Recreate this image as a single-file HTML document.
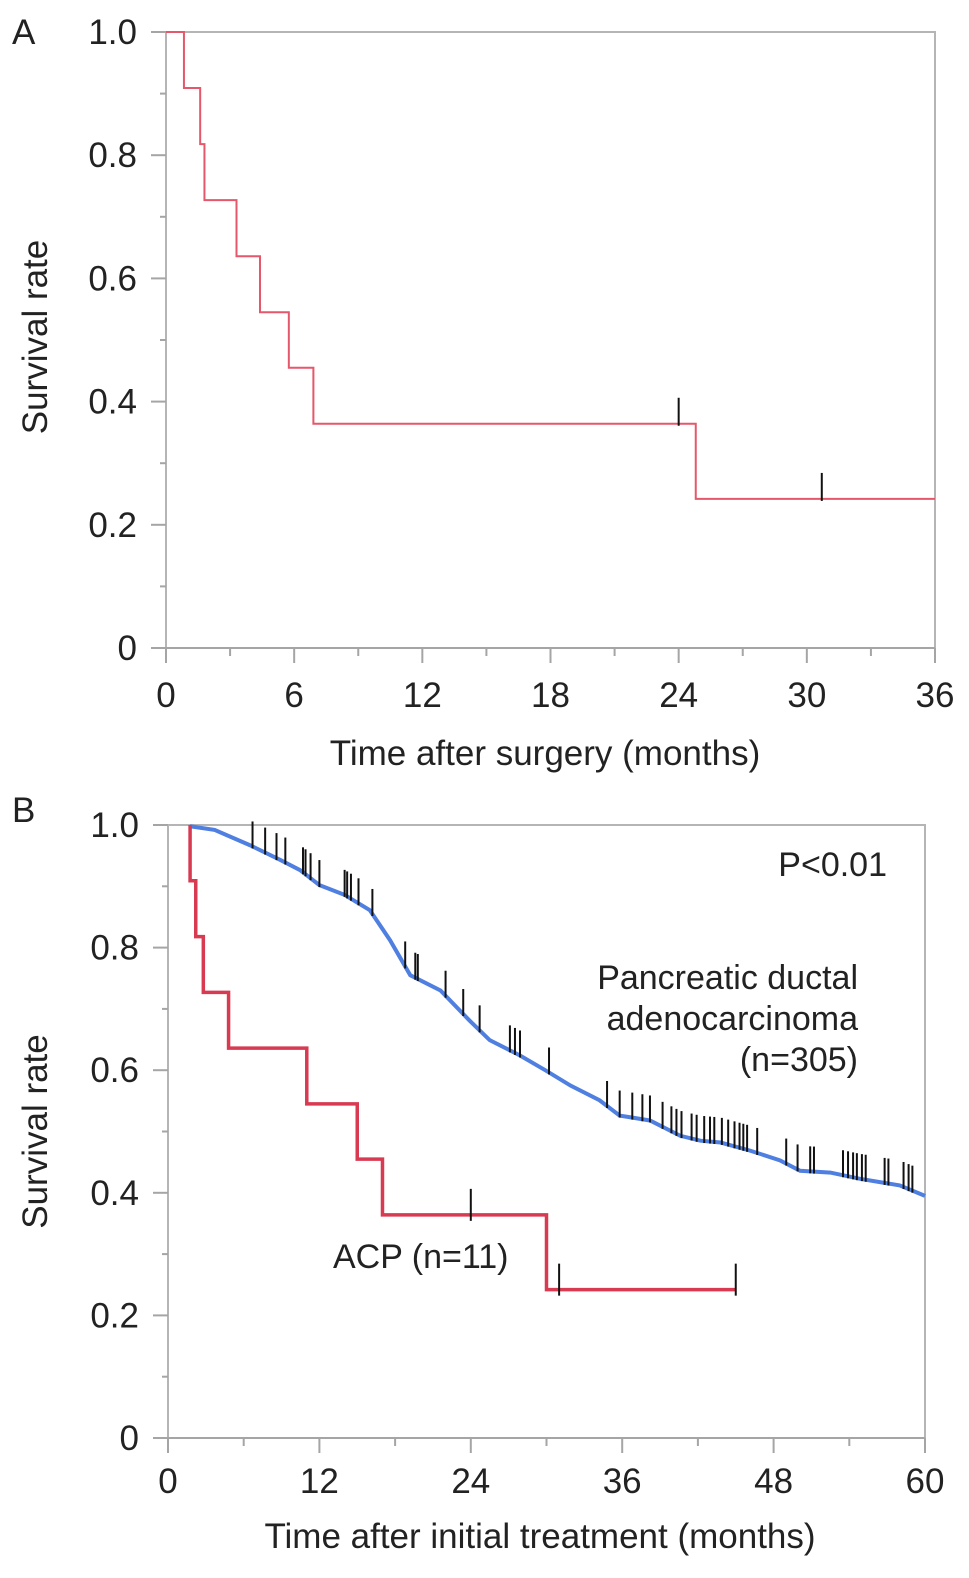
<!DOCTYPE html>
<html><head><meta charset="utf-8"><style>
body{margin:0;background:#fff;}
svg text{font-family:"Liberation Sans",Arial,sans-serif;fill:#222;}
</style></head><body>
<svg id="s" width="969" height="1573" xmlns="http://www.w3.org/2000/svg">
<text x="12" y="44" font-size="35">A</text>
<text x="12" y="822" font-size="35">B</text>
<g id="ga"></g>
<g id="gb"></g>
</svg>
<script>
// Panel A data
const aTimes=[0,0.84,1.6,1.8,3.3,4.4,5.75,6.9,24.8,36];
const aSurv=[1,0.909,0.818,0.727,0.636,0.545,0.455,0.364,0.242,0.242];
const aCensor=[24,30.7];
const aXTicks=[0,6,12,18,24,30,36];
const yTicks=[0,0.2,0.4,0.6,0.8,1.0];
const yTickLabels=["0","0.2","0.4","0.6","0.8","1.0"];
// Panel B data
const bRedTimes=[1.75,1.75,2.2,2.8,4.8,11,15,17,30,45];
const bRedSurv=[1,0.909,0.818,0.727,0.636,0.545,0.455,0.364,0.242,0.242];
const bRedCensor=[24,31,45];
const bBlueTimes=[1.74,3.7,6.5,8.9,10.5,12.0,14.0,16.0,17.6,19.2,21.6,23.9,25.5,27.9,29.9,31.9,34.2,35.8,38.2,40.6,42.2,43.8,46.1,48.5,50.1,52.5,54.8,58.0,60];
const bBlueSurv=[0.998,0.992,0.967,0.943,0.926,0.902,0.886,0.861,0.812,0.755,0.730,0.681,0.649,0.624,0.600,0.575,0.551,0.526,0.518,0.493,0.485,0.482,0.469,0.453,0.436,0.433,0.423,0.412,0.395];
const bBlueCensor=[6.7,7.7,8.6,9.3,10.7,10.9,11.3,12.0,14.0,14.2,14.5,15.1,16.2,18.8,19.6,19.8,22.0,23.4,24.7,27.1,27.5,27.9,30.2,34.8,35.8,36.8,37.6,38.2,39.2,39.9,40.3,40.7,41.5,41.9,42.5,42.96,43.3,43.9,44.4,44.9,45.3,45.6,45.9,46.7,49.0,49.9,50.9,51.2,53.5,53.9,54.3,54.6,55.0,55.3,56.8,57.1,58.3,58.7,59.0];
const bXTicks=[0,12,24,36,48,60];

const NS="http://www.w3.org/2000/svg";
function mk(p,tag,at,txt){const e=document.createElementNS(NS,tag);for(const k in at)e.setAttribute(k,at[k]);if(txt!==undefined)e.textContent=txt;p.appendChild(e);return e;}
function interp(ts,ss,t){let v=ss[0];for(let i=0;i<ts.length;i++){if(ts[i]<=t)v=ss[i];}return v;}
function interpLin(ts,ss,t){for(let i=0;i<ts.length-1;i++){if(t>=ts[i]&&t<=ts[i+1]){return ss[i]+(ss[i+1]-ss[i])*(t-ts[i])/(ts[i+1]-ts[i]);}}return ss[ss.length-1];}

function axes(g,P,xTicks,xMax,xMinorStep,xTitle,tOff,titleOff,titleX){
  const X=v=>P.x0+(P.x1-P.x0)*v/xMax, Y=v=>P.y0-(P.y0-P.y1)*v;
  let r=mk(g,'rect',{x:P.x0,y:P.y1,width:P.x1-P.x0,height:P.y0-P.y1,fill:'none',stroke:'#b5b5b5','stroke-width':2});
  
  
  mk(g,'line',{x1:P.x0-15,y1:P.y0,x2:P.x1,y2:P.y0,stroke:'#a5a5a5','stroke-width':2});
  for(let i=0;i<yTicks.length;i++){
    mk(g,'line',{x1:P.x0-15,y1:Y(yTicks[i]),x2:P.x0,y2:Y(yTicks[i]),stroke:'#a5a5a5','stroke-width':2});
    if(i<yTicks.length-1)mk(g,'line',{x1:P.x0-6,y1:Y(yTicks[i]+0.1),x2:P.x0,y2:Y(yTicks[i]+0.1),stroke:'#a5a5a5','stroke-width':2});
    const t=mk(g,'text',{x:P.x0-29,y:Y(yTicks[i])+12,'font-size':35,'text-anchor':'end'},yTickLabels[i]);
    
    
  }
  for(let i=0;i<xTicks.length;i++){
    mk(g,'line',{x1:X(xTicks[i]),y1:P.y0,x2:X(xTicks[i]),y2:P.y0+15,stroke:'#a5a5a5','stroke-width':2});
    if(i<xTicks.length-1)mk(g,'line',{x1:X(xTicks[i]+xMinorStep),y1:P.y0,x2:X(xTicks[i]+xMinorStep),y2:P.y0+8,stroke:'#a5a5a5','stroke-width':2});
    const t=mk(g,'text',{x:X(xTicks[i]),y:P.y0+tOff,'font-size':35,'text-anchor':'middle'},String(xTicks[i]));
    
    
  }
  const xt=mk(g,'text',{x:titleX,y:P.y0+titleOff,'font-size':35,'text-anchor':'middle'},xTitle);
  
  
  const cy=(P.y0+P.y1)/2+(P.y1<100?-3:0);
  const yt=mk(g,'text',{x:0,y:0,'font-size':35,'text-anchor':'middle',transform:`translate(47,${cy}) rotate(-90)`},'Survival rate');
  
  
  return {X,Y};
}
function stepPath(ts,ss,X,Y){let d=`M${X(ts[0])},${Y(ss[0])}`;for(let i=1;i<ts.length;i++){d+=` H${X(ts[i])} V${Y(ss[i])}`;}return d;}

const PA={x0:166,x1:935,y0:648,y1:32};
const PB={x0:168,x1:925,y0:1438,y1:825};
// Panel A
const ga=document.getElementById('ga');
const A=axes(ga,PA,aXTicks,36,3,'Time after surgery (months)',59,117,545);
let p=mk(ga,'path',{d:stepPath(aTimes,aSurv,A.X,A.Y),fill:'none',stroke:'#e5576a','stroke-width':2});


aCensor.forEach(t=>{const y=A.Y(interp(aTimes,aSurv,t));const l=mk(ga,'line',{x1:A.X(t),y1:y-26,x2:A.X(t),y2:y+2,stroke:'#111','stroke-width':2});

});
// Panel B
const gb=document.getElementById('gb');
const B=axes(gb,PB,bXTicks,60,6,'Time after initial treatment (months)',55,110,540);
let bl=mk(gb,'polyline',{points:bBlueTimes.map((t,i)=>B.X(t)+','+B.Y(bBlueSurv[i])).join(' '),fill:'none',stroke:'#4f7fe0','stroke-width':4});


bBlueCensor.forEach(t=>{const y=B.Y(interpLin(bBlueTimes,bBlueSurv,t));const l=mk(gb,'line',{x1:B.X(t),y1:y-25,x2:B.X(t),y2:y+2,stroke:'#111','stroke-width':2});

});
let rp=mk(gb,'path',{d:stepPath(bRedTimes,bRedSurv,B.X,B.Y),fill:'none',stroke:'#d83a52','stroke-width':3.5});


bRedCensor.forEach(t=>{const y=B.Y(interp(bRedTimes,bRedSurv,t));const l=mk(gb,'line',{x1:B.X(t),y1:y-26,x2:B.X(t),y2:y+6,stroke:'#111','stroke-width':2});

});
const labs=[['P<0.01',887,876,'p-value'],['Pancreatic ductal',858,989,'pdac-label-1'],['adenocarcinoma',858,1030,'pdac-label-2'],['(n=305)',858,1071,'pdac-label-3']];
labs.forEach(a=>{const t=mk(gb,'text',{x:a[1],y:a[2],'font-size':34,'text-anchor':'end'},a[0]);

});
const ac=mk(gb,'text',{x:333,y:1268,'font-size':34},'ACP (n=11)');


</script>
</body></html>
